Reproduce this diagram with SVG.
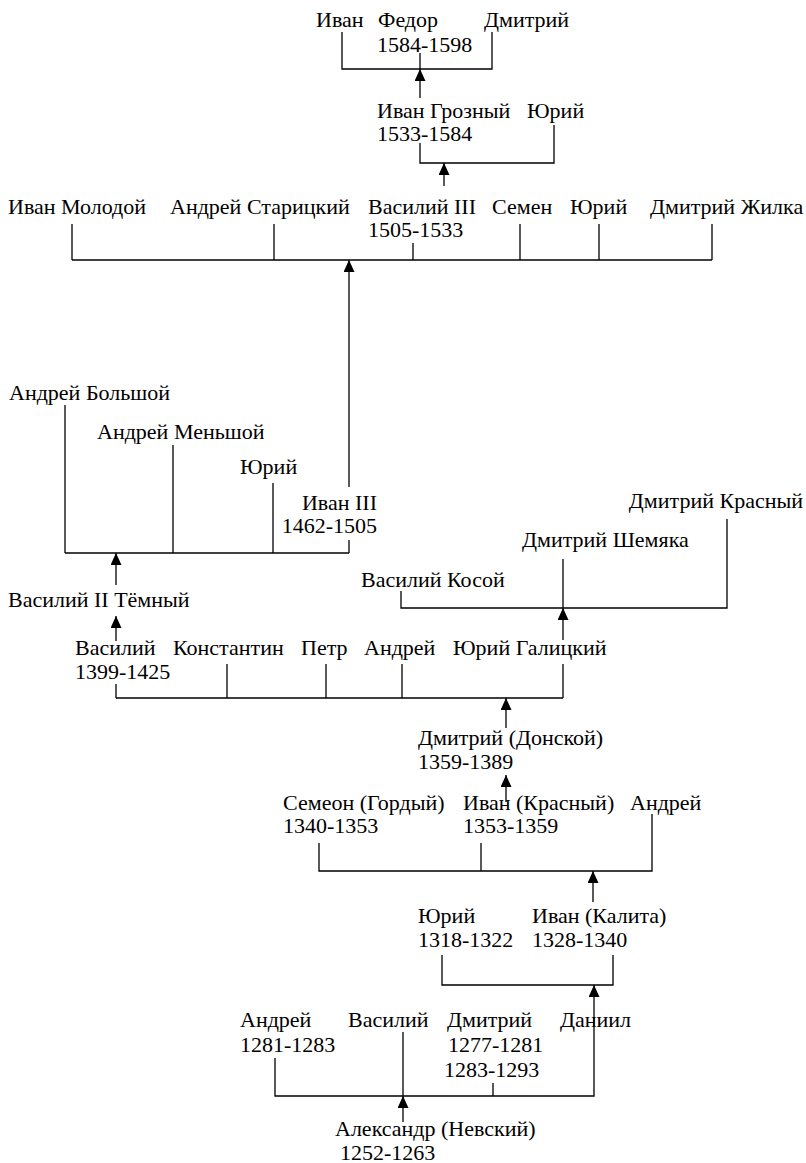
<svg xmlns="http://www.w3.org/2000/svg" width="806" height="1163" viewBox="0 0 806 1163">
<style>
text{font-family:"Liberation Serif","Times New Roman",Times,"DejaVu Serif",serif;font-size:22px;fill:#000}
.e{text-anchor:end}
#links line,#links polyline{stroke:#000;stroke-width:1.3;fill:none}
</style>
<defs>
<marker id="ah" markerUnits="userSpaceOnUse" markerWidth="12" markerHeight="11" refX="12" refY="5.5" orient="auto"><path d="M0,0 L12,5.5 L0,11 z" fill="#000"/></marker>
</defs>
<rect width="806" height="1163" fill="#fff"/>
<g id="links">
<polyline points="342,32 342,69 492,69 492,32"/>
<line x1="420" y1="53" x2="420" y2="69"/>
<line x1="420" y1="98" x2="420" y2="69" marker-end="url(#ah)"/>
<polyline points="420,143 420,163 554,163 554,125"/>
<line x1="444" y1="186" x2="444" y2="163" marker-end="url(#ah)"/>
<line x1="72" y1="260" x2="712" y2="260"/>
<line x1="72" y1="224" x2="72" y2="260"/>
<line x1="274" y1="224" x2="274" y2="260"/>
<line x1="413" y1="243" x2="413" y2="260"/>
<line x1="520" y1="224" x2="520" y2="260"/>
<line x1="599" y1="224" x2="599" y2="260"/>
<line x1="712" y1="224" x2="712" y2="260"/>
<line x1="349" y1="487" x2="349" y2="260" marker-end="url(#ah)"/>
<line x1="65" y1="553" x2="349" y2="553"/>
<line x1="65" y1="405" x2="65" y2="553"/>
<line x1="173" y1="445" x2="173" y2="553"/>
<line x1="273" y1="483" x2="273" y2="553"/>
<line x1="349" y1="540" x2="349" y2="553"/>
<line x1="116" y1="585" x2="116" y2="553" marker-end="url(#ah)"/>
<line x1="116" y1="641" x2="116" y2="616" marker-end="url(#ah)"/>
<polyline points="401,591 401,608 727,608 727,519"/>
<line x1="563" y1="559" x2="563" y2="608"/>
<line x1="563" y1="640" x2="563" y2="608" marker-end="url(#ah)"/>
<line x1="116" y1="698" x2="563" y2="698"/>
<line x1="116" y1="684" x2="116" y2="698"/>
<line x1="227" y1="664" x2="227" y2="698"/>
<line x1="326" y1="664" x2="326" y2="698"/>
<line x1="402" y1="664" x2="402" y2="698"/>
<line x1="563" y1="664" x2="563" y2="698"/>
<line x1="506" y1="728" x2="506" y2="698" marker-end="url(#ah)"/>
<line x1="506" y1="802" x2="506" y2="775" marker-end="url(#ah)"/>
<polyline points="319,843 319,871 652,871 652,814"/>
<line x1="481" y1="843" x2="481" y2="871"/>
<line x1="593" y1="902" x2="593" y2="871" marker-end="url(#ah)"/>
<polyline points="442,955 442,985 613,985 613,955"/>
<line x1="594" y1="1032" x2="594" y2="985" marker-end="url(#ah)"/>
<polyline points="275,1058 275,1096 594,1096 594,1032"/>
<line x1="403" y1="1032" x2="403" y2="1096"/>
<line x1="493" y1="1083" x2="493" y2="1096"/>
<line x1="403" y1="1122" x2="403" y2="1096" marker-end="url(#ah)"/>
</g>
<g id="ivan-top"><text x="316" y="27">Иван</text></g>
<g id="fedor"><text x="378" y="27">Федор</text><text x="377" y="52">1584-1598</text></g>
<g id="dmitry-top"><text x="484" y="27">Дмитрий</text></g>
<g id="ivan-grozny"><text x="377" y="118">Иван Грозный</text><text x="377" y="141">1533-1584</text></g>
<g id="yuri-1"><text x="527" y="118">Юрий</text></g>
<g id="ivan-molodoy"><text x="8" y="214">Иван Молодой</text></g>
<g id="andrey-staritsky"><text x="170" y="214">Андрей Старицкий</text></g>
<g id="vasily-3"><text x="368" y="214">Василий III</text><text x="368" y="237">1505-1533</text></g>
<g id="semen"><text x="492" y="214">Семен</text></g>
<g id="yuri-2"><text x="570" y="214">Юрий</text></g>
<g id="dmitry-zhilka"><text x="650" y="214">Дмитрий Жилка</text></g>
<g id="andrey-bolshoy"><text x="9" y="400">Андрей Большой</text></g>
<g id="andrey-menshoy"><text x="97" y="439">Андрей Меньшой</text></g>
<g id="yuri-3"><text x="240" y="474">Юрий</text></g>
<g id="ivan-3"><text class="e" x="377" y="510">Иван III</text><text class="e" x="377" y="533">1462-1505</text></g>
<g id="dmitry-krasny"><text class="e" x="803" y="508">Дмитрий Красный</text></g>
<g id="dmitry-shemyaka"><text x="522" y="547">Дмитрий Шемяка</text></g>
<g id="vasily-kosoy"><text x="361" y="587">Василий Косой</text></g>
<g id="vasily-2"><text x="8" y="607">Василий II Тёмный</text></g>
<g id="vasily-1"><text x="75" y="655">Василий</text><text x="75" y="679">1399-1425</text></g>
<g id="konstantin"><text x="173" y="655">Константин</text></g>
<g id="petr"><text x="301" y="655">Петр</text></g>
<g id="andrey-1"><text x="364" y="655">Андрей</text></g>
<g id="yuri-galitsky"><text x="453" y="655">Юрий Галицкий</text></g>
<g id="dmitry-donskoy"><text x="418" y="745">Дмитрий (Донской)</text><text x="418" y="769">1359-1389</text></g>
<g id="semeon"><text x="283" y="810">Семеон (Гордый)</text><text x="283" y="833">1340-1353</text></g>
<g id="ivan-krasny"><text x="463" y="810">Иван (Красный)</text><text x="463" y="833">1353-1359</text></g>
<g id="andrey-2"><text x="630" y="810">Андрей</text></g>
<g id="yuri-4"><text x="418" y="923">Юрий</text><text x="418" y="947">1318-1322</text></g>
<g id="ivan-kalita"><text x="532" y="923">Иван (Калита)</text><text x="532" y="947">1328-1340</text></g>
<g id="andrey-3"><text x="240" y="1027">Андрей</text><text x="240" y="1052">1281-1283</text></g>
<g id="vasily-0"><text x="348" y="1027">Василий</text></g>
<g id="dmitry-0"><text x="447" y="1027">Дмитрий</text><text x="448" y="1052">1277-1281</text><text x="444" y="1077">1283-1293</text></g>
<g id="daniil"><text x="560" y="1027">Даниил</text></g>
<g id="alexander"><text x="335" y="1136">Александр (Невский)</text><text x="340" y="1160">1252-1263</text></g>
</svg>
